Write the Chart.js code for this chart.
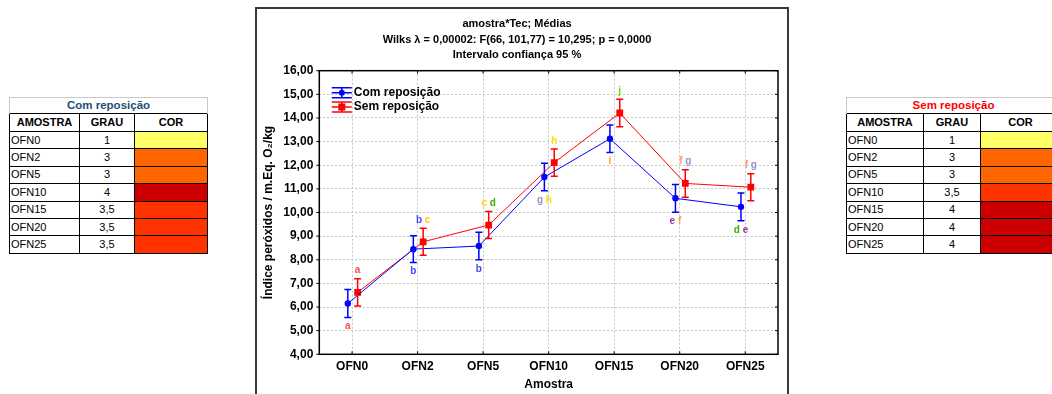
<!DOCTYPE html>
<html>
<head>
<meta charset="utf-8">
<script src="https://cdn.jsdelivr.net/npm/chart.js@4.4.1/dist/chart.umd.min.js"></script>
<style>
html, body { margin: 0; padding: 0; background: #fff; }
body { width: 1052px; height: 394px; overflow: hidden; position: relative; font-family: "Liberation Sans", Arial, sans-serif; }
#frame { position: absolute; left: 255px; top: 7px; width: 534px; height: 430px; border: 2px solid #3a3a3a; box-sizing: border-box; }
#wrap { position: absolute; left: 256px; top: 8px; width: 532px; height: 386px; }
table.grau { position: absolute; border-collapse: collapse; font-size: 11px; color: #000; table-layout: fixed; }
table.grau td { border: 1px solid #000; padding: 0 1px; height: 16.4px; line-height: 15px; white-space: nowrap; overflow: hidden; }
table.grau td.tt { border: 1px solid #c8c8c8; border-bottom: none; text-align: center; font-weight: bold; font-size: 11.5px; height: 15px; }
table.grau tr.hd td { font-weight: bold; text-align: center; height: 17px; }
table.grau td.c { text-align: center; }
</style>
</head>
<body>
<table class="grau" id="tabCom" style="left:9px; top:97px;"></table>
<div id="frame"></div>
<div id="wrap"><canvas id="chartCanvas" width="532" height="386"></canvas></div>
<table class="grau" id="tabSem" style="left:846px; top:97px;"></table>

<script>
// categorias (amostras)
var categories = ['OFN0', 'OFN2', 'OFN5', 'OFN10', 'OFN15', 'OFN20', 'OFN25']

// medias e intervalo de confianca
var comMeans  = [6.15, 8.45, 8.58, 11.50, 13.12, 10.60, 10.24]
var comErrors = [0.59, 0.57, 0.58, 0.58, 0.58, 0.59, 0.59]
var semMeans  = [6.62, 8.76, 9.47, 12.11, 14.21, 11.23, 11.07]
var semErrors = [0.58, 0.57, 0.57, 0.58, 0.58, 0.58, 0.57]

// letras do teste de comparacao
var comLetters = ['a', 'b', 'b', 'g h', 'i', 'e f', 'd e']
var semLetters = ['a', 'b c', 'c d', 'h', 'j', 'f g', 'f g']

// titulos
var titleLines = ['amostra*Tec; Médias', 'Wilks \u03bb = 0,00002: F(66, 101,77) = 10,295; p = 0,0000', 'Intervalo confiança 95 %']
var xTitle = 'Amostra'
var yTitle = 'Índice peróxidos / m.Eq. O\u2082/kg'
var yMin = 4
var yMax = 16

// tabelas laterais
var tableAmostras = ['OFN0', 'OFN2', 'OFN5', 'OFN10', 'OFN15', 'OFN20', 'OFN25']
var comGrau = ['1', '3', '3', '4', '3,5', '3,5', '3,5']
var semGrau = ['1', '3', '3', '3,5', '4', '4', '4']

// cores
var grauColors = { '1': '#ffff66', '3': '#ff6600', '3,5': '#ff3300', '4': '#cc0000' }
var letterColors = { a: '#ff4d4d', b: '#4646ff', c: '#ffcc00', d: '#44aa00', e: '#993399', f: '#ff9966', g: '#9494cc', h: '#ffdd00', i: '#ff9933', j: '#66dd00' }
var comColor = '#0000ff'
var semColor = '#ff0000'
var comShift = -0.065
var semShift = 0.085
var fontFam = '"Liberation Sans", Arial, sans-serif'

function buildTable(id, title, titleColor, grau, widths) {
    var t = document.getElementById(id)
    t.style.width = widths.reduce((s, w) => s + w, 0) + 'px'
    var html = '<colgroup>' + widths.map(w => '<col style="width:' + w + 'px">').join('') + '</colgroup>'
    html += '<tr><td class="tt" colspan="3" style="color:' + titleColor + '">' + title + '</td></tr>'
    html += '<tr class="hd"><td>AMOSTRA</td><td>GRAU</td><td>COR</td></tr>'
    tableAmostras.forEach((a, i) => {
        html += '<tr><td>' + a + '</td><td class="c">' + grau[i] + '</td><td style="background:' + grauColors[grau[i]] + '"></td></tr>'
    })
    t.innerHTML = html
}
buildTable('tabCom', 'Com reposição', '#1f4e79', comGrau, [70, 55, 73])
buildTable('tabSem', 'Sem reposição', '#ff0000', semGrau, [77, 57, 80])

function points(means, shift) {
    return means.map((v, i) => ({ x: i + shift, y: v }))
}

// barras de erro + letras
var errorBarPlugin = {
    id: 'errorBars',
    afterDatasetsDraw(chart) {
        var ctx = chart.ctx
        var ys = chart.scales.y
        chart.data.datasets.forEach((ds, di) => {
            var meta = chart.getDatasetMeta(di)
            ctx.save()
            ctx.strokeStyle = ds.borderColor
            ctx.lineWidth = 1.5
            meta.data.forEach((pt, i) => {
                var top = ys.getPixelForValue(ds.means[i] + ds.errors[i])
                var bot = ys.getPixelForValue(ds.means[i] - ds.errors[i])
                ctx.beginPath()
                ctx.moveTo(pt.x, top); ctx.lineTo(pt.x, bot)
                ctx.moveTo(pt.x - 3.5, top); ctx.lineTo(pt.x + 3.5, top)
                ctx.moveTo(pt.x - 3.5, bot); ctx.lineTo(pt.x + 3.5, bot)
                ctx.stroke()
                // letras
                var txt = ds.letters[i]
                var ly = ds.letterSide === 'above' ? top - 8 : bot + 9
                ctx.font = 'bold 10px ' + fontFam
                ctx.textBaseline = 'middle'
                ctx.textAlign = 'left'
                var parts = txt.split(' ')
                var sp = ctx.measureText(' ').width
                var total = parts.reduce((s, p) => s + ctx.measureText(p).width, 0) + sp * (parts.length - 1)
                var x = pt.x - total / 2
                parts.forEach(p => {
                    ctx.fillStyle = letterColors[p]
                    ctx.fillText(p, x, ly)
                    x += ctx.measureText(p).width + sp
                })
            })
            ctx.restore()
        })
    }
}

// moldura da area do grafico + legenda
var framePlugin = {
    id: 'frameLegend',
    afterDraw(chart) {
        var ctx = chart.ctx
        var a = chart.chartArea
        ctx.save()
        ctx.strokeStyle = '#000'
        ctx.lineWidth = 1.5
        ctx.strokeRect(a.left, a.top, a.right - a.left, a.bottom - a.top)
        // pequenos tracos internos
        ctx.lineWidth = 1
        chart.scales.y.ticks.forEach(t => {
            var y = chart.scales.y.getPixelForValue(t.value)
            ctx.beginPath()
            ctx.moveTo(a.left - 3, y); ctx.lineTo(a.left, y)
            ctx.moveTo(a.right - 3, y); ctx.lineTo(a.right, y)
            ctx.stroke()
        })
        chart.scales.x.ticks.forEach(t => {
            var x = chart.scales.x.getPixelForValue(t.value)
            ctx.beginPath()
            ctx.moveTo(x, a.bottom - 3); ctx.lineTo(x, a.bottom)
            ctx.moveTo(x, a.top); ctx.lineTo(x, a.top + 3)
            ctx.stroke()
        })
        // legenda
        chart.data.datasets.forEach((ds, di) => {
            var cx = a.left + 22.5
            var cy = a.top + 22 + di * 14.3
            ctx.strokeStyle = ds.borderColor
            ctx.fillStyle = ds.borderColor
            ctx.lineWidth = 1.5
            ctx.beginPath()
            ctx.moveTo(cx - 10, cy); ctx.lineTo(cx + 10, cy)
            ctx.moveTo(cx - 10, cy - 5); ctx.lineTo(cx + 10, cy - 5)
            ctx.moveTo(cx - 10, cy + 5); ctx.lineTo(cx + 10, cy + 5)
            ctx.moveTo(cx, cy - 5); ctx.lineTo(cx, cy + 5)
            ctx.stroke()
            if (ds.pointStyle === 'rect') {
                ctx.fillRect(cx - 3.5, cy - 3.5, 7, 7)
            } else {
                ctx.beginPath(); ctx.arc(cx, cy, 3, 0, Math.PI * 2); ctx.fill()
            }
            ctx.fillStyle = '#000'
            ctx.font = 'bold 12px ' + fontFam
            ctx.textBaseline = 'middle'
            ctx.textAlign = 'left'
            ctx.fillText(ds.label, cx + 12, cy)
        })
        ctx.restore()
    }
}

var tickFont = { family: fontFam, size: 12, weight: 'bold' }

var myChart = new Chart(document.getElementById('chartCanvas'), {
    type: 'scatter',
    data: {
        datasets: [
            {
                label: 'Com reposição', data: points(comMeans, comShift), means: comMeans, errors: comErrors,
                letters: comLetters, letterSide: 'below', showLine: true,
                borderColor: comColor, backgroundColor: comColor, borderWidth: 1,
                pointStyle: 'circle', pointRadius: 3.2, pointBorderWidth: 0
            },
            {
                label: 'Sem reposição', data: points(semMeans, semShift), means: semMeans, errors: semErrors,
                letters: semLetters, letterSide: 'above', showLine: true,
                borderColor: semColor, backgroundColor: semColor, borderWidth: 1,
                pointStyle: 'rect', pointRadius: 4.8, pointBorderWidth: 0
            }
        ]
    },
    options: {
        responsive: false,
        animation: false,
        layout: { padding: { left: 0, right: 10, top: 0, bottom: 0 } },
        plugins: {
            legend: { display: false },
            tooltip: { enabled: false },
            title: {
                display: true, text: titleLines, color: '#000',
                font: { family: fontFam, size: 11, weight: 'bold', lineHeight: 1.4 },
                padding: { top: 8.5, bottom: 8 }
            }
        },
        scales: {
            x: {
                type: 'linear', min: -0.5, max: categories.length - 0.5,
                afterBuildTicks: s => { s.ticks = categories.map((c, i) => ({ value: i })) },
                afterFit: s => { s.height = 39.7 },
                ticks: { callback: v => categories[v], font: tickFont, color: '#000', padding: 5, autoSkip: false, maxRotation: 0 },
                grid: { color: '#c4c4c4', drawTicks: false },
                border: { display: false, dash: [2, 2] },
                title: { display: true, text: xTitle, color: '#000', font: tickFont, padding: { top: 0, bottom: 2 } }
            },
            y: {
                min: yMin, max: yMax,
                afterFit: s => { s.width = 63.3 },
                ticks: { stepSize: 1, callback: v => v.toFixed(2).replace('.', ','), font: tickFont, color: '#000', padding: 6 },
                grid: { color: '#c4c4c4', drawTicks: false },
                border: { display: false, dash: [2, 2] },
                title: { display: true, text: yTitle, color: '#000', font: tickFont, padding: { top: 5, bottom: 4 } }
            }
        }
    },
    plugins: [errorBarPlugin, framePlugin]
})
</script>
</body>
</html>
